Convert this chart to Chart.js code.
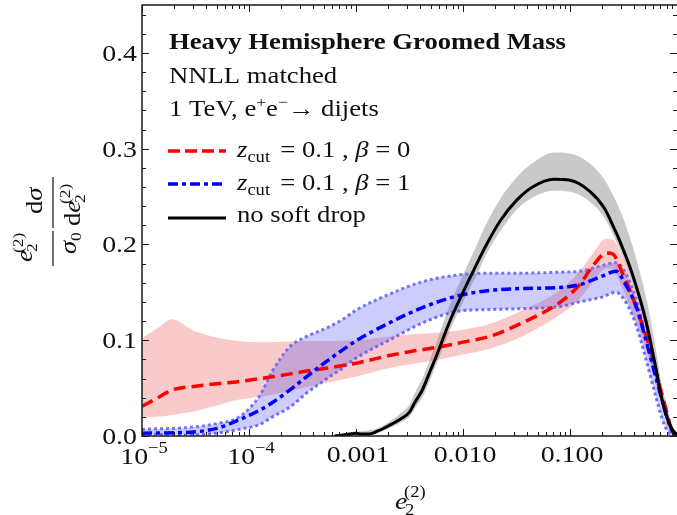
<!DOCTYPE html>
<html>
<head>
<meta charset="utf-8">
<script src="https://cdn.jsdelivr.net/npm/chart.js@4.4.1/dist/chart.umd.min.js"></script>
<style>
html,body{margin:0;padding:0;background:#fff;}
canvas{display:block;}
</style>
</head>
<body>
<canvas id="c" width="677" height="515"></canvas>
<script>
// ---------- DATA (x given as log10 of e2^(2)) ----------
const xTickValues = [1e-5, 1e-4, 1e-3, 1e-2, 1e-1];
const yTickValues = [0, 0.1, 0.2, 0.3, 0.4];

const blackLogX = [-3.2,-3.05,-3.0,-2.95,-2.88,-2.8,-2.69,-2.58,-2.5,-2.45,-2.38,-2.31,-2.25,-2.13,-2.0,-1.87,-1.78,-1.65,-1.5,-1.35,-1.15,-1.0,-0.82,-0.68,-0.6,-0.54,-0.42,-0.29,-0.2,-0.15,-0.1,-0.05,0];
const blackMid  = [0.000,0.002,0.003,0.002,0.002,0.005,0.011,0.018,0.025,0.035,0.048,0.067,0.083,0.118,0.150,0.180,0.200,0.225,0.246,0.260,0.268,0.267,0.256,0.238,0.220,0.205,0.170,0.120,0.072,0.043,0.021,0.008,0.001];
const blackHigh = [0.001,0.004,0.005,0.005,0.006,0.008,0.015,0.024,0.033,0.045,0.060,0.080,0.097,0.135,0.168,0.200,0.222,0.248,0.270,0.285,0.296,0.295,0.285,0.268,0.252,0.238,0.200,0.145,0.092,0.058,0.030,0.012,0.002];
const blackLow  = [0.000,0.001,0.001,0.001,0.001,0.003,0.008,0.014,0.020,0.029,0.040,0.058,0.074,0.108,0.140,0.168,0.190,0.214,0.236,0.249,0.256,0.255,0.245,0.228,0.211,0.196,0.162,0.112,0.066,0.038,0.018,0.006,0.000];

const redLogX = [-5,-4.85,-4.72,-4.5,-4.09,-3.83,-3.5,-3.0,-2.69,-2.5,-2.22,-2.0,-1.75,-1.45,-1.1,-0.91,-0.79,-0.66,-0.6,-0.51,-0.42,-0.33,-0.23,-0.17,-0.1,-0.05,0];
const redMid  = [0.031,0.040,0.048,0.052,0.057,0.061,0.067,0.076,0.084,0.088,0.093,0.098,0.104,0.118,0.139,0.158,0.177,0.191,0.190,0.170,0.146,0.118,0.083,0.055,0.027,0.006,0.001];
const redHigh = [0.102,0.113,0.122,0.109,0.099,0.098,0.099,0.100,0.104,0.106,0.108,0.111,0.117,0.131,0.152,0.172,0.190,0.206,0.205,0.188,0.163,0.132,0.095,0.066,0.035,0.012,0.002];
const redLow  = [0.019,0.020,0.022,0.026,0.038,0.042,0.050,0.062,0.071,0.075,0.080,0.085,0.091,0.104,0.126,0.143,0.160,0.175,0.174,0.154,0.130,0.104,0.070,0.045,0.020,0.003,0.000];

const blueLogX = [-5,-4.55,-4.3,-4.09,-3.9,-3.78,-3.62,-3.46,-3.31,-3.15,-2.99,-2.69,-2.38,-2.06,-1.75,-1.45,-1.1,-0.91,-0.7,-0.57,-0.48,-0.38,-0.29,-0.2,-0.12,-0.05,0];
const blueMid  = [0.003,0.004,0.008,0.017,0.027,0.035,0.048,0.062,0.075,0.088,0.100,0.118,0.134,0.146,0.152,0.154,0.155,0.158,0.167,0.172,0.158,0.135,0.100,0.062,0.030,0.006,0.001];
const blueHigh = [0.007,0.009,0.013,0.020,0.042,0.068,0.093,0.104,0.111,0.120,0.132,0.148,0.161,0.168,0.170,0.170,0.171,0.172,0.178,0.181,0.170,0.142,0.105,0.064,0.030,0.007,0.001];
const blueLow  = [0.002,0.001,0.003,0.007,0.012,0.020,0.030,0.045,0.057,0.069,0.082,0.100,0.118,0.130,0.132,0.133,0.135,0.140,0.145,0.150,0.140,0.115,0.080,0.042,0.012,0.001,0.000];

// ---------- helpers ----------
const pts = (lx, ys) => lx.map((e, i) => ({x: Math.pow(10, e), y: ys[i]}));
const SERIF = '"Liberation Serif","DejaVu Serif",serif';
const SX = 1.16; // horizontal stretch of the reference typesetting
const TXT = '#111';

function runsWidth(ctx, items) {
  let w = 0;
  for (const it of items) { ctx.font = it[1]; w += ctx.measureText(it[0]).width + (it[3] || 0); }
  return w * SX;
}
function drawRuns(ctx, x, y, items) {
  ctx.save();
  ctx.translate(x, y);
  ctx.scale(SX, 1);
  let cx = 0;
  for (const it of items) {
    ctx.font = it[1];
    ctx.fillText(it[0], cx, it[2] || 0);
    cx += ctx.measureText(it[0]).width + (it[3] || 0);
  }
  ctx.restore();
}
const F = (s, st) => (st || '') + ' ' + s + 'px ' + SERIF;

const decor = {
  id: 'decor',
  afterDatasetsDraw(chart) {
    const {ctx, chartArea: a, scales: {x, y}} = chart;
    ctx.save();
    ctx.strokeStyle = '#1a1a1a';
    ctx.lineWidth = 1.5;
    // frame
    ctx.beginPath();
    ctx.moveTo(a.right, a.top); ctx.lineTo(a.left, a.top); ctx.lineTo(a.left, a.bottom); ctx.lineTo(a.right, a.bottom);
    ctx.stroke();
    ctx.lineWidth = 1;
    ctx.beginPath();
    // y ticks
    for (let i = 0; i <= 22; i++) {
      const v = i * 0.02;
      const py = Math.round(y.getPixelForValue(v)) + 0.5;
      const len = (i % 5 === 0) ? 7 : 4;
      ctx.moveTo(a.left, py); ctx.lineTo(a.left + len, py);
      ctx.moveTo(a.right, py); ctx.lineTo(a.right - len, py);
    }
    // x ticks
    for (let d = -5; d <= 0; d++) {
      for (let k = 1; k <= 9; k++) {
        const v = k * Math.pow(10, d);
        if (v > 1.0001) continue;
        const px = Math.round(x.getPixelForValue(v)) + 0.5;
        const len = (k === 1) ? 7 : 4;
        ctx.moveTo(px, a.bottom); ctx.lineTo(px, a.bottom - len);
        ctx.moveTo(px, a.top); ctx.lineTo(px, a.top + len);
      }
    }
    ctx.stroke();
    ctx.restore();

    ctx.save();
    ctx.fillStyle = TXT;
    ctx.textBaseline = 'alphabetic';
    // y tick labels
    for (const v of yTickValues) {
      const items = [[v.toFixed(1), F(24)]];
      const w = runsWidth(ctx, items);
      drawRuns(ctx, a.left - 5 - w, y.getPixelForValue(v) + 8, items);
    }
    // x tick labels
    const xl = {1e-5: [['10', F(24)], ['\u22125', F(16), -11]],
                1e-4: [['10', F(24)], ['\u22124', F(16), -11]],
                1e-3: [['0.001', F(24)]], 1e-2: [['0.010', F(24)]], 1e-1: [['0.100', F(24)]]};
    for (const v of xTickValues) {
      const items = xl[v];
      const w = runsWidth(ctx, items);
      const base = (v < 1e-3) ? 464 : 462;
      drawRuns(ctx, x.getPixelForValue(v) - w / 2 + 2, base, items);
    }
    // x axis title e_2^(2)
    drawRuns(ctx, 395, 509, [['e', F(24, 'italic')]]);
    drawRuns(ctx, 405, 515, [['2', F(16)]]);
    drawRuns(ctx, 404, 497, [['(2)', F(16)]]);

    // y axis title (rotated)
    ctx.save();
    ctx.translate(53, 266);
    ctx.rotate(-Math.PI / 2);
    ctx.fillRect(0, -0.6, 35, 1.2);
    ctx.fillRect(38, -0.6, 51, 1.2);
    // numerator e2^(2)
    drawRuns(ctx, 4, -21, [['e', F(23, 'italic')]]);
    drawRuns(ctx, 14, -16, [['2', F(15)]]);
    drawRuns(ctx, 13, -30, [['(2)', F(15)]]);
    // denominator sigma_0
    drawRuns(ctx, 12, 23, [['\u03C3', F(23, 'italic')]]);
    drawRuns(ctx, 25, 28, [['0', F(15)]]);
    // numerator d sigma
    drawRuns(ctx, 52, -11, [['d', F(23)], ['\u03C3', F(23, 'italic')]]);
    // denominator d e2^(2)
    drawRuns(ctx, 40, 27, [['d', F(23)], ['e', F(23, 'italic')]]);
    drawRuns(ctx, 63, 32, [['2', F(15)]]);
    drawRuns(ctx, 62, 17, [['(2)', F(15)]]);
    ctx.restore();

    // annotations
    drawRuns(ctx, 169, 49, [['Heavy Hemisphere Groomed Mass', F(23, 'bold')]]);
    drawRuns(ctx, 169, 83, [['NNLL matched', F(23)]]);
    drawRuns(ctx, 169, 116, [['1 TeV, e', F(23)], ['+', F(15), -9], ['e', F(23)], ['\u2212', F(15), -9], ['\u2192 dijets', F(23)]]);
    const zc = (b) => [['z', F(23, 'italic')], ['cut', F(16), 5, 3], [' = 0.1 , ', F(23)], ['\u03B2', F(23, 'italic')], [' = ' + b, F(23)]];
    drawRuns(ctx, 237, 157, zc('0'));
    drawRuns(ctx, 237, 190, zc('1'));
    drawRuns(ctx, 237, 222, [['no soft drop', F(23)]]);

    // legend samples
    const sample = (yy, col, dash, w) => {
      ctx.save();
      ctx.strokeStyle = col; ctx.lineWidth = w; ctx.setLineDash(dash);
      ctx.beginPath(); ctx.moveTo(168, yy); ctx.lineTo(226, yy); ctx.stroke();
      ctx.restore();
    };
    sample(151, '#ff0000', [12, 5], 3.5);
    sample(184, '#0000ff', [10, 4, 4, 4], 3.5);
    sample(218, '#000000', [], 3.2);
    ctx.restore();
  }
};

const common = {pointRadius: 0, cubicInterpolationMode: 'monotone'};
const bandEdge = {borderColor: 'rgba(0,0,0,0)', borderWidth: 0};

new Chart(document.getElementById('c'), {
  type: 'line',
  data: {
    datasets: [
      Object.assign({data: pts(blackLogX, blackHigh), backgroundColor: 'rgba(0,0,0,0.21)', fill: '+1', order: 10}, common, bandEdge),
      Object.assign({data: pts(blackLogX, blackLow), fill: false, order: 10}, common, bandEdge),
      Object.assign({data: pts(redLogX, redHigh), backgroundColor: 'rgba(235,80,80,0.30)', fill: '+1', order: 9}, common, bandEdge),
      Object.assign({data: pts(redLogX, redLow), fill: false, order: 9}, common, bandEdge),
      Object.assign({data: pts(blueLogX, blueHigh), backgroundColor: 'rgba(70,70,240,0.27)', fill: '+1', order: 8,
        borderColor: 'rgba(110,110,245,0.95)', borderWidth: 3, borderDash: [3, 3]}, common),
      Object.assign({data: pts(blueLogX, blueLow), fill: false, order: 8,
        borderColor: 'rgba(110,110,245,0.95)', borderWidth: 3, borderDash: [3, 3]}, common),
      Object.assign({data: pts(redLogX, redMid), fill: false, order: 3, borderColor: '#ff0000', borderWidth: 3.5, borderDash: [12, 6]}, common),
      Object.assign({data: pts(blueLogX, blueMid), fill: false, order: 2, borderColor: '#0000ff', borderWidth: 3.5, borderDash: [10, 4, 4, 4]}, common),
      Object.assign({data: pts(blackLogX, blackMid), fill: false, order: 1, borderColor: '#000000', borderWidth: 3}, common)
    ]
  },
  options: {
    responsive: false,
    devicePixelRatio: 1,
    animation: false,
    layout: {padding: {left: 142, top: 5, right: 0, bottom: 79}},
    scales: {
      x: {type: 'logarithmic', min: 1e-5, max: 1, display: false},
      y: {type: 'linear', min: 0, max: 0.45, display: false}
    },
    plugins: {legend: {display: false}, tooltip: {enabled: false}},
    events: []
  },
  plugins: [decor]
});
</script>
</body>
</html>
